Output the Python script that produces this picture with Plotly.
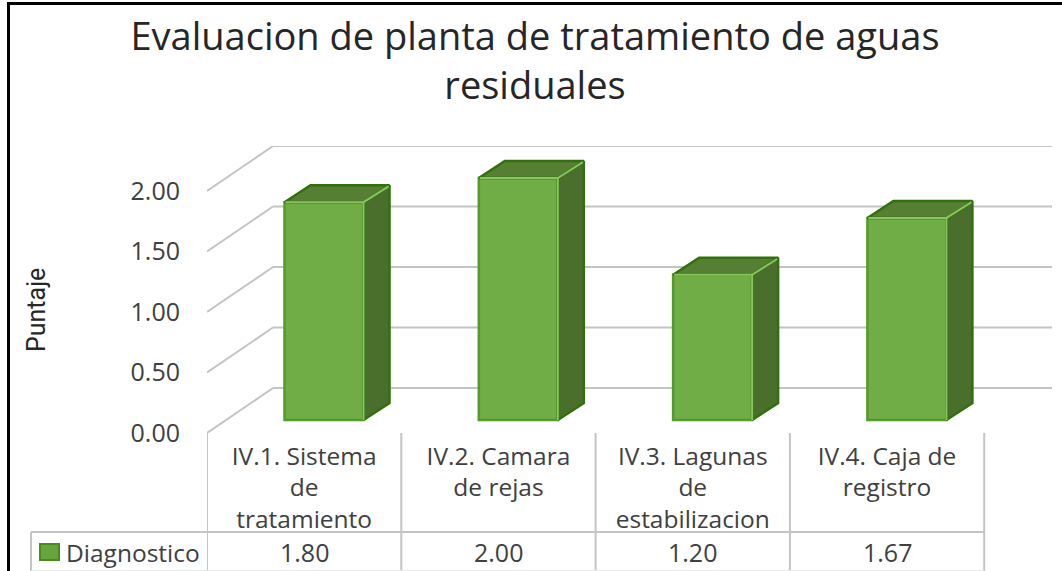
import plotly.graph_objects as go

# values
categories = ["IV.1. Sistema<br>de<br>tratamiento", "IV.2. Camara<br>de rejas",
              "IV.3. Lagunas<br>de<br>estabilizacion", "IV.4. Caja de<br>registro"]
table_labels = ["1.80", "2.00", "1.20", "1.67"]
values = [1.80, 2.00, 1.20, 1.67]
y_ticks = [0, 0.5, 1.0, 1.5, 2.0]
y_tick_labels = ["0.00", "0.50", "1.00", "1.50", "2.00"]

FONT = "Open Sans"
TEXT = "#404040"
GRID = "#C4C4C4"
FRONT = "#70AD47"
FRONT_EDGE = "#559A2A"
SIDE = "#4A6F2C"
TOP = "#567F33"
DARK_EDGE = "#336F0E"
HIGHLIGHT = "#86C65C"

# page geometry of the plot area (px)
W, H = 1062, 571
LEFT, RIGHT, TOP_PX, BOTTOM = 207, 1052, 146, 433
CAT_PX = 194.3
UNIT_PX = 121.0


def py(px):
    return (BOTTOM - px) / (BOTTOM - TOP_PX)


def fx(px):
    return (px - LEFT) / (RIGHT - LEFT)


# wall depth and bar depth, in axis units
wall_dx, wall_dy = 66 / CAT_PX, 45 / UNIT_PX
bar_dx, bar_dy = 26 / CAT_PX, 17 / UNIT_PX
bar_w = 79 / CAT_PX
bar_base = 13 / UNIT_PX
bar_off = 117 / CAT_PX  # bar center inside its category cell

fig = go.Figure()
centers = [i + bar_off for i in range(len(values))]

fig.add_trace(go.Bar(
    x=centers, y=values, base=bar_base, width=bar_w, name="Diagnostico",
    marker=dict(color=FRONT, line=dict(color=FRONT_EDGE, width=2.5)),
    customdata=table_labels, hovertemplate="%{customdata}<extra></extra>",
))

# side and top faces of each bar
for c, v in zip(centers, values):
    x0, x1 = c - bar_w / 2, c + bar_w / 2
    y0, y1 = bar_base, bar_base + v
    fig.add_trace(go.Scatter(
        x=[x1, x1 + bar_dx, x1 + bar_dx, x1, x1],
        y=[y0, y0 + bar_dy, y1 + bar_dy, y1, y0],
        mode="lines", fill="toself", fillcolor=SIDE, hoverinfo="skip",
        line=dict(color=DARK_EDGE, width=2.5), showlegend=False,
    ))
    fig.add_trace(go.Scatter(
        x=[x0, x0 + bar_dx, x1 + bar_dx, x1, x0],
        y=[y1, y1 + bar_dy, y1 + bar_dy, y1, y1],
        mode="lines", fill="toself", fillcolor=TOP, hoverinfo="skip",
        line=dict(color=DARK_EDGE, width=2.5), showlegend=False,
    ))
    # light highlight on the front edges
    fig.add_trace(go.Scatter(
        x=[x0 + 0.005, x1, x1 + bar_dx - 0.005], y=[y1, y1, y1 + bar_dy - 0.01],
        mode="lines", line=dict(color=HIGHLIGHT, width=2),
        hoverinfo="skip", showlegend=False,
    ))
    fig.add_trace(go.Scatter(
        x=[x1, x1], y=[y0, y1], mode="lines", line=dict(color=HIGHLIGHT, width=2),
        hoverinfo="skip", showlegend=False,
    ))

shapes = []
# gridlines: slanted floor/wall part then the back wall
for t in y_ticks:
    shapes.append(dict(type="line", xref="x", yref="y", layer="below",
                       x0=0, y0=t, x1=wall_dx, y1=t + wall_dy,
                       line=dict(color=GRID, width=2)))
    shapes.append(dict(type="line", xref="x", yref="y", layer="below",
                       x0=wall_dx, y0=t + wall_dy, x1=(RIGHT - LEFT) / CAT_PX, y1=t + wall_dy,
                       line=dict(color=GRID, width=2)))

# data table
for i in range(len(values) + 1):
    shapes.append(dict(type="line", xref="x", yref="paper", x0=i, x1=i,
                       y0=py(BOTTOM), y1=py(H), line=dict(color=GRID, width=2)))
shapes.append(dict(type="line", xref="paper", yref="paper", x0=fx(31), x1=fx(LEFT + 4 * CAT_PX),
                   y0=py(532), y1=py(532), line=dict(color=GRID, width=2)))
shapes.append(dict(type="line", xref="paper", yref="paper", x0=fx(31), x1=fx(31),
                   y0=py(532), y1=py(H), line=dict(color=GRID, width=2)))
shapes.append(dict(type="line", xref="paper", yref="paper", x0=fx(31), x1=fx(LEFT + 4 * CAT_PX),
                   y0=py(570.5), y1=py(570.5), line=dict(color="#E8E8E8", width=1)))
shapes.append(dict(type="rect", xref="paper", yref="paper", x0=fx(40), x1=fx(59),
                   y0=py(560), y1=py(544), fillcolor="#66A53C", line=dict(color="#4A8A20", width=2)))

# black frame of the original picture
shapes.append(dict(type="line", xref="paper", yref="paper", x0=fx(8.5), x1=fx(8.5),
                   y0=py(2), y1=py(H), line=dict(color="black", width=3)))
shapes.append(dict(type="line", xref="paper", yref="paper", x0=fx(7), x1=fx(W),
                   y0=py(3.5), y1=py(3.5), line=dict(color="black", width=3)))

annotations = [
    dict(text="Puntaje", xref="paper", yref="paper", x=fx(36), y=py(310), textangle=-90,
         showarrow=False, xanchor="center", yanchor="middle",
         font=dict(family="Roboto", size=25, color="#262626")),
    dict(text="Diagnostico", xref="paper", yref="paper", x=fx(64), y=py(552),
         showarrow=False, xanchor="left", yanchor="middle",
         font=dict(family=FONT, size=24.5, color=TEXT)),
]
for i, lab in enumerate(table_labels):
    annotations.append(dict(text=lab, xref="x", yref="paper", x=i + 0.5, y=py(552),
                            showarrow=False, xanchor="center", yanchor="middle",
                            font=dict(family=FONT, size=25, color=TEXT)))

fig.update_layout(
    width=W, height=H,
    title=dict(text="Evaluacion de planta de tratamiento de aguas<br>residuales",
               x=535 / W, xanchor="center", xref="container", y=1 - 50 / H, yanchor="middle",
               font=dict(family=FONT, size=38, color="#262626")),
    paper_bgcolor="white", plot_bgcolor="rgba(0,0,0,0)",
    margin=dict(l=LEFT, r=W - RIGHT, t=TOP_PX, b=H - BOTTOM, autoexpand=False),
    showlegend=False, shapes=shapes, annotations=annotations,
    xaxis=dict(range=[0, (RIGHT - LEFT) / CAT_PX], tickmode="array",
               tickvals=[i + 0.5 for i in range(len(categories))], ticktext=categories,
               tickangle=0, showgrid=False, zeroline=False, showline=False, ticks="",
               ticklabelstandoff=6, tickfont=dict(family=FONT, size=24.5, color=TEXT)),
    yaxis=dict(range=[0, (BOTTOM - TOP_PX) / UNIT_PX], tickmode="array",
               tickvals=y_ticks, ticktext=y_tick_labels, showgrid=False, zeroline=False,
               showline=False, ticks="", ticklabelstandoff=26,
               tickfont=dict(family=FONT, size=25, color=TEXT)),
)

# no page margin, so the figure fills the window
fig.write_html("out.html", config={"displayModeBar": False},
               post_script="document.body.style.margin='0';")
